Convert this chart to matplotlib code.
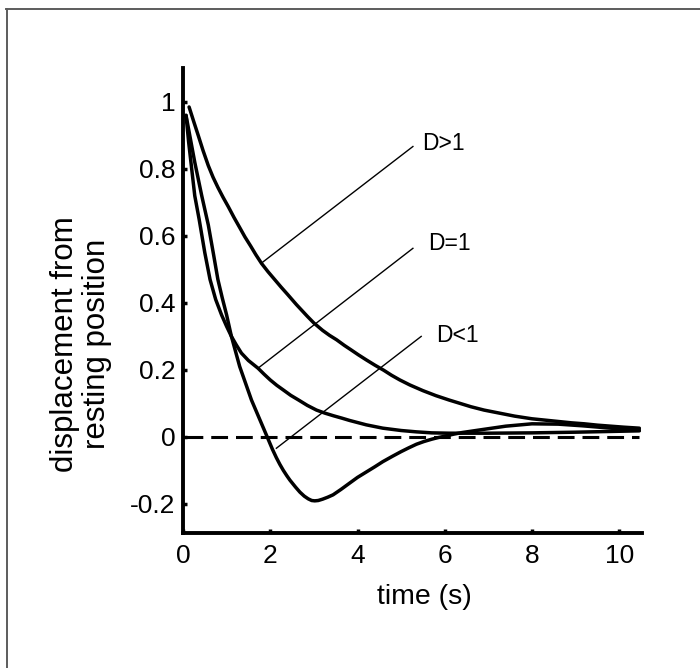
import numpy as np
import matplotlib
matplotlib.use("Agg")
import matplotlib.pyplot as plt
from matplotlib.lines import Line2D

plt.rcParams["font.family"] = ["Liberation Sans", "DejaVu Sans"]

# curves (time in s, displacement)
t_over = [0.14, 0.25, 0.35, 0.46, 0.58, 0.69, 0.8, 0.92, 1.04, 1.17, 1.3, 1.42, 1.55, 1.67,
          1.8, 1.95, 2.1, 2.25, 2.4, 2.6, 2.85, 3.0, 3.2, 3.36, 3.52, 3.7, 3.85, 4.02, 4.2,
          4.4, 4.6, 4.78, 4.97, 5.2, 5.5, 5.8, 6.1, 6.35, 6.6, 6.9, 7.25, 7.6, 8.0, 8.3,
          8.6, 8.9, 9.2, 9.5, 9.8, 10.1, 10.46]
y_over = [0.985, 0.94, 0.9, 0.855, 0.81, 0.775, 0.745, 0.715, 0.687, 0.655, 0.625, 0.597, 0.57, 0.544,
          0.518, 0.493, 0.47, 0.447, 0.425, 0.395, 0.36, 0.34, 0.318, 0.303, 0.29, 0.273, 0.26, 0.245, 0.23,
          0.214, 0.199, 0.184, 0.17, 0.155, 0.138, 0.123, 0.11, 0.1, 0.09, 0.08, 0.071, 0.062, 0.054, 0.05,
          0.046, 0.042, 0.039, 0.035, 0.032, 0.029, 0.026]

t_crit = [0.07, 0.13, 0.2, 0.27, 0.37, 0.5, 0.62, 0.75, 0.885, 1.0, 1.11, 1.22, 1.34, 1.5, 1.72,
          1.86, 2.0, 2.15, 2.3, 2.47, 2.65, 2.85, 3.06, 3.25, 3.45, 3.64, 3.82, 4.2, 4.58, 5.0,
          5.35, 5.7, 6.1, 7.0, 8.0, 9.0, 10.46]
y_crit = [0.96, 0.88, 0.8, 0.72, 0.65, 0.55, 0.47, 0.41, 0.364, 0.33, 0.30, 0.275, 0.25, 0.228, 0.205,
          0.187, 0.17, 0.154, 0.14, 0.124, 0.11, 0.094, 0.08, 0.071, 0.063, 0.056, 0.049, 0.036, 0.026, 0.019,
          0.015, 0.012, 0.011, 0.011, 0.012, 0.014, 0.018]

t_under = [0.07, 0.17, 0.27, 0.43, 0.58, 0.7, 0.8, 0.9, 1.0, 1.11, 1.3, 1.57, 1.75, 1.93, 2.05,
           2.14, 2.22, 2.3, 2.38, 2.45, 2.58, 2.68, 2.78, 2.87, 2.95, 3.02, 3.1, 3.2, 3.32, 3.44,
           3.62, 3.82, 4.0, 4.2, 4.4, 4.58, 4.8, 5.0, 5.17, 5.35, 5.52, 5.7, 5.85, 6.0, 6.2, 6.4,
           6.87, 7.4, 8.0, 8.6, 9.16, 9.8, 10.46]
y_under = [0.96, 0.89, 0.82, 0.72, 0.633, 0.545, 0.47, 0.415, 0.364, 0.30, 0.21, 0.11, 0.055, 0.0, -0.037,
           -0.062, -0.082, -0.1, -0.116, -0.129, -0.15, -0.165, -0.177, -0.185, -0.19, -0.191, -0.19, -0.186, -0.18, -0.173,
           -0.157, -0.138, -0.121, -0.105, -0.089, -0.074, -0.058, -0.044, -0.033, -0.022, -0.014, -0.007, -0.002, 0.002, 0.008, 0.013,
           0.022, 0.032, 0.039, 0.038, 0.033, 0.026, 0.02]

labels = ["D>1", "D=1", "D<1"]
# leader lines: point on curve -> end near label, and label anchor
lead_x = [(1.79, 5.27), (1.72, 5.27), (2.14, 5.46)]
lead_y = [(0.518, 0.867), (0.205, 0.563), (-0.034, 0.30)]
label_xy = [(5.49, 0.876), (5.61, 0.578), (5.80, 0.304)]

xticks = [0, 2, 4, 6, 8, 10]
xticklabels = ["0", "2", "4", "6", "8", "10"]
yticks = [-0.2, 0, 0.2, 0.4, 0.6, 0.8, 1.0]
yticklabels = ["-0.2", "0", "0.2", "0.4", "0.6", "0.8", "1"]

fig = plt.figure(figsize=(7, 6.68), dpi=100)
ax = fig.add_axes([0.2614, 0.2021, 0.6557, 0.6954])

lw = 2.5
for tt, yy in [(t_over, y_over), (t_crit, y_crit), (t_under, y_under)]:
    ax.plot(tt, yy, color="black", lw=lw, solid_capstyle="round", solid_joinstyle="round")

base, = ax.plot([0.08, 10.46], [0, 0], color="black", lw=2.2)
base.set_dashes((5.5, 2.6))

for lx, ly, (tx, ty), lab in zip(lead_x, lead_y, label_xy, labels):
    ax.plot(lx, ly, color="black", lw=1.0)
    ax.text(tx, ty, lab, fontsize=16.5, ha="left", va="center")

ax.set_xlim(0, 10.52)
ax.set_ylim(-0.287, 1.10)
ax.set_xticks(xticks)
ax.set_xticklabels(xticklabels)
ax.set_yticks(yticks)
ax.set_yticklabels(yticklabels)
ax.tick_params(direction="in", length=3, width=2.5, labelsize=19)
ax.tick_params(axis="x", pad=8)
ax.tick_params(axis="y", pad=5.5)

for s in ["top", "right"]:
    ax.spines[s].set_visible(False)
for s in ["left", "bottom"]:
    ax.spines[s].set_linewidth(2.8)

fig.text(81 / 700, 1 - 344 / 668, "displacement from\nresting position", rotation=90,
         ha="center", va="center", fontsize=22.5, linespacing=1.05)
fig.text(424 / 700, 1 - 597 / 668, "time (s)", ha="center", va="center", fontsize=20.5)

# grey frame lines along top and left edges
fig.add_artist(Line2D([6 / 700, 1], [1 - 9 / 668, 1 - 9 / 668], color="#5c5c5c", lw=1.4))
fig.add_artist(Line2D([7 / 700, 7 / 700], [0, 1 - 9 / 668], color="#5c5c5c", lw=1.4))

fig.savefig("out.png", dpi=100)
